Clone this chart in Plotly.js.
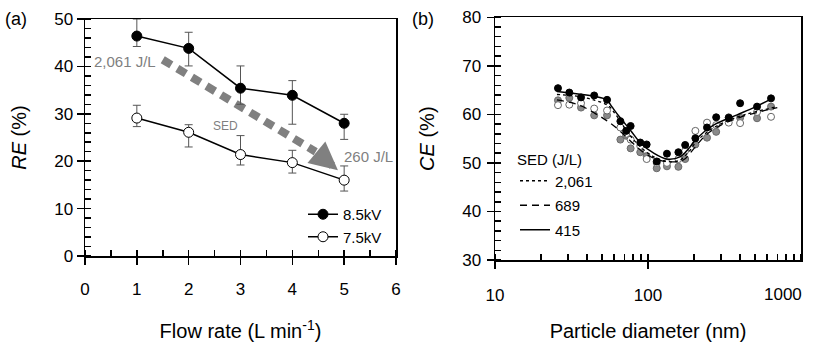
<!DOCTYPE html>
<html>
<head>
<meta charset="utf-8">
<script src="https://cdn.plot.ly/plotly-3.0.1.min.js"></script>
<style>html,body{margin:0;padding:0;background:#fff;}#chart{width:814px;height:342px;}</style>
</head>
<body>
<div id="chart"></div>
<script>
// ---------- Panel (a) data ----------
var flowRate = [1, 2, 3, 4, 5];
var re85 = [46.4, 43.8, 35.4, 33.9, 28.0];
var re85Plus = [3.6, 3.4, 4.7, 3.1, 1.9];
var re85Minus = [2.2, 3.7, 3.4, 6.1, 3.4];
var re75 = [29.1, 26.1, 21.4, 19.7, 16.0];
var re75Plus = [2.7, 1.6, 4.0, 2.6, 3.0];
var re75Minus = [1.8, 3.1, 2.2, 2.2, 2.3];
var arrowX = [1.50, 4.45, 4.88];
var arrowY = [41.4, 22.0, 18.1];

// ---------- Panel (b) data ----------
var diamPts = [25.8, 30.6, 36.5, 44.5, 54, 66, 72, 77, 89, 98, 114, 133, 158, 175, 204, 243, 279, 337, 400, 516, 637];
var ceBlack = [65.4, 64.5, 63.5, 63.9, 63.0, 58.6, 56.6, 57.6, 54.2, 53.8, 50.3, 51.9, 52.2, 53.7, 55.1, 57.3, 59.4, 59.3, 62.3, 61.6, 63.3];
var ceGray  = [62.9, 63.4, 61.4, 59.8, 59.8, 54.8, 55.6, 53.0, 52.2, 51.4, 48.9, 49.3, 49.2, 50.8, 53.8, 55.2, 56.4, 59.4, 59.3, 59.2, 61.6];
var ceOpen  = [61.9, 62.0, 62.3, 61.2, 60.8, 57.3, 56.0, 54.8, 53.5, 50.8, 50.0, 50.0, 50.8, 52.5, 56.6, 58.3, 57.8, 58.3, 58.2, 60.5, 59.5];

var fit415X = [25.4, 35, 45, 53.8, 58, 65, 76.5, 90, 109, 133, 163, 185, 209, 268, 382, 500, 640];
var fit415Y = [64.7, 64.2, 63.7, 63.0, 61.6, 59.5, 56.8, 54.0, 52.0, 50.8, 51.3, 53.0, 55.1, 57.8, 59.9, 61.5, 63.2];
var fit2061X = [25.4, 35, 45, 55, 62, 75, 90, 110, 133, 160, 185, 210, 270, 380, 500, 700];
var fit2061Y = [64.1, 63.7, 62.9, 61.8, 59.8, 56.0, 53.2, 51.2, 50.3, 50.5, 52.3, 54.6, 57.3, 59.4, 60.5, 61.6];
var fit689X = [25.4, 35, 45, 55, 66, 80, 95, 115, 140, 170, 200, 240, 300, 400, 550, 700];
var fit689Y = [63.0, 62.0, 60.2, 58.5, 56.5, 54.0, 52.0, 50.7, 50.2, 50.6, 53.0, 55.8, 57.8, 59.4, 60.6, 61.4];

var sedLabels = ['2,061', '689', '415'];
var voltLabels = ['8.5kV', '7.5kV'];
var diamTickVals = [10, 100];
var diamTickText = ['10', '100'];
var diamEdgeTick = [1000];

var FONT = 'Liberation Sans, Arial, sans-serif';
var GRAYTXT = '#7f7f7f';

var traces = [
  // (a) arrow shaft
  {x: arrowX.slice(0, 2), y: arrowY.slice(0, 2), xaxis: 'x', yaxis: 'y', mode: 'lines',
   line: {color: '#808080', width: 8, dash: '10px,7px'}, showlegend: false, hoverinfo: 'skip'},
  // (a) series
  {x: flowRate, y: re85, name: voltLabels[0], xaxis: 'x', yaxis: 'y', mode: 'lines+markers',
   line: {color: '#000', width: 1.5}, marker: {color: '#000', size: 10, line: {color: '#000', width: 1}},
   error_y: {type: 'data', symmetric: false, array: re85Plus, arrayminus: re85Minus, color: '#555', thickness: 1, width: 4},
   legend: 'legend'},
  {x: flowRate, y: re75, name: voltLabels[1], xaxis: 'x', yaxis: 'y', mode: 'lines+markers',
   line: {color: '#000', width: 1.5}, marker: {color: '#fff', size: 10, line: {color: '#000', width: 1}},
   error_y: {type: 'data', symmetric: false, array: re75Plus, arrayminus: re75Minus, color: '#555', thickness: 1, width: 4},
   legend: 'legend'},
  // (b) points
  {x: diamPts, y: ceGray, xaxis: 'x2', yaxis: 'y2', mode: 'markers', showlegend: false,
   marker: {color: '#8a8a8a', size: 7, line: {color: '#6a6a6a', width: 1}}},
  {x: diamPts, y: ceOpen, xaxis: 'x2', yaxis: 'y2', mode: 'markers', showlegend: false,
   marker: {color: '#fff', size: 7, line: {color: '#666', width: 1}}},
  {x: diamPts, y: ceBlack, xaxis: 'x2', yaxis: 'y2', mode: 'markers', showlegend: false,
   marker: {color: '#000', size: 7, line: {color: '#000', width: 1}}},
  // (b) fitted curves
  {x: fit2061X, y: fit2061Y, name: sedLabels[0], xaxis: 'x2', yaxis: 'y2', mode: 'lines', line: {color: '#000', width: 1.3, dash: 'dot', shape: 'spline'},
   legend: 'legend2', legendgroup: 'g1'},
  {x: fit689X, y: fit689Y, name: sedLabels[1], xaxis: 'x2', yaxis: 'y2', mode: 'lines', line: {color: '#000', width: 1.3, dash: '7px,5px', shape: 'spline'},
   legend: 'legend2', legendgroup: 'g2'},
  {x: fit415X, y: fit415Y, name: sedLabels[2], xaxis: 'x2', yaxis: 'y2', mode: 'lines', line: {color: '#000', width: 1.5, shape: 'spline'},
   legend: 'legend2', legendgroup: 'g3'}
];

var axisCommon = {
  showgrid: false, zeroline: false, showline: true, mirror: true, linecolor: '#000', linewidth: 1.5,
  ticks: 'outside', ticklen: 7, tickwidth: 1.5, tickcolor: '#000',
  tickfont: {family: FONT, size: 17, color: '#000'}, automargin: false
};

function ax(extra) { return Object.assign({}, axisCommon, extra); }

var layout = {
  width: 814, height: 342,
  margin: {l: 0, r: 0, t: 0, b: 0},
  paper_bgcolor: '#fff', plot_bgcolor: '#fff',
  font: {family: FONT, color: '#000'},
  xaxis: ax({domain: [85 / 814, 396 / 814], anchor: 'y', range: [0, 6], dtick: 1, ticklabelstandoff: 10,
    minor: {dtick: 0.5, ticks: 'inside', ticklen: 6, tickwidth: 1.5, tickcolor: '#000'},
    title: {text: 'Flow rate (L min<sup>-1</sup>)', font: {family: FONT, size: 20}, standoff: 26}}),
  yaxis: ax({domain: [1 - 256 / 342, 1 - 19 / 342], anchor: 'x', range: [0, 50], dtick: 10,
    minor: {dtick: 2, ticks: 'inside', ticklen: 6, tickwidth: 1.5, tickcolor: '#000'},
    title: {text: '<i>RE</i> (%)', font: {family: FONT, size: 20}, standoff: 22}}),
  xaxis2: ax({domain: [495 / 814, 801 / 814], anchor: 'y2', type: 'log', range: [1, 3],
    tickmode: 'array', tickvals: diamTickVals, ticktext: diamTickText, ticklabelstandoff: 12,
    minor: {dtick: 'D1', ticks: 'inside', ticklen: 6, tickwidth: 1.5, tickcolor: '#000'},
    title: {text: 'Particle diameter (nm)', font: {family: FONT, size: 20}, standoff: 27}}),
  xaxis3: {domain: [495 / 814, 801 / 814], anchor: 'y2', overlaying: 'x2', side: 'bottom', type: 'log', range: [1, 3],
    tickmode: 'array', tickvals: diamEdgeTick, showticklabels: false, showline: false, showgrid: false, zeroline: false,
    ticks: 'outside', ticklen: 7, tickwidth: 1.5, tickcolor: '#000', automargin: false},
  yaxis2: ax({domain: [1 - 260 / 342, 1 - 17.3 / 342], anchor: 'x2', range: [30, 80], dtick: 10, ticklabelstandoff: 2,
    minor: {dtick: 2, ticks: 'inside', ticklen: 6, tickwidth: 1.5, tickcolor: '#000'},
    title: {text: '<i>CE</i> (%)', font: {family: FONT, size: 20}, standoff: 22}}),
  legend: {x: 303 / 814, y: 1 - 198 / 342, xanchor: 'left', yanchor: 'top', bgcolor: 'rgba(0,0,0,0)',
    font: {family: FONT, size: 15, color: '#000'}, itemwidth: 30, tracegroupgap: 0},
  legend2: {x: 515 / 814, y: 1 - 145 / 342, xanchor: 'left', yanchor: 'top', bgcolor: 'rgba(0,0,0,0)',
    font: {family: FONT, size: 15, color: '#000'}, itemwidth: 30, traceorder: 'grouped', tracegroupgap: 2,
    title: {text: 'SED (J/L)', side: 'top', font: {family: FONT, size: 15, color: '#000'}}},
  annotations: [
    {xref: 'paper', yref: 'paper', x: 3 / 814, y: 1 - 19 / 342, xanchor: 'left', yanchor: 'middle', text: '(a)', showarrow: false,
     font: {family: FONT, size: 18, color: '#000'}},
    {xref: 'paper', yref: 'paper', x: 410 / 814, y: 1 - 19 / 342, xanchor: 'left', yanchor: 'middle', text: '(b)', showarrow: false,
     font: {family: FONT, size: 18, color: '#000'}},
    {xref: 'x2', yref: 'paper', x: 3, y: 1 - 294 / 342, xanchor: 'right', yanchor: 'middle', xshift: 3, text: '1000', showarrow: false,
     font: {family: FONT, size: 17, color: '#000'}},
    {xref: 'x', yref: 'y', x: arrowX[0] - 0.1, y: arrowY[0] - 0.4, xanchor: 'right', yanchor: 'middle', text: '2,061 J/L', showarrow: false,
     font: {family: FONT, size: 15, color: GRAYTXT}},
    {xref: 'x', yref: 'y', x: arrowX[2] + 0.08, y: arrowY[2] + 2.8, xanchor: 'left', yanchor: 'middle', text: '260 J/L', showarrow: false,
     font: {family: FONT, size: 15, color: GRAYTXT}},
    {xref: 'x', yref: 'y', x: 2.72, y: 27.4, xanchor: 'center', yanchor: 'middle', text: 'SED', showarrow: false,
     font: {family: FONT, size: 12, color: GRAYTXT}},
    {xref: 'x', yref: 'y', axref: 'x', ayref: 'y', x: arrowX[2], y: arrowY[2], ax: arrowX[1], ay: arrowY[1], text: '',
     showarrow: true, arrowhead: 2, arrowsize: 0.7, arrowwidth: 8, arrowcolor: '#808080'}
  ]
};

Plotly.newPlot('chart', traces, layout, {staticPlot: true, displayModeBar: false});
</script>
</body>
</html>
